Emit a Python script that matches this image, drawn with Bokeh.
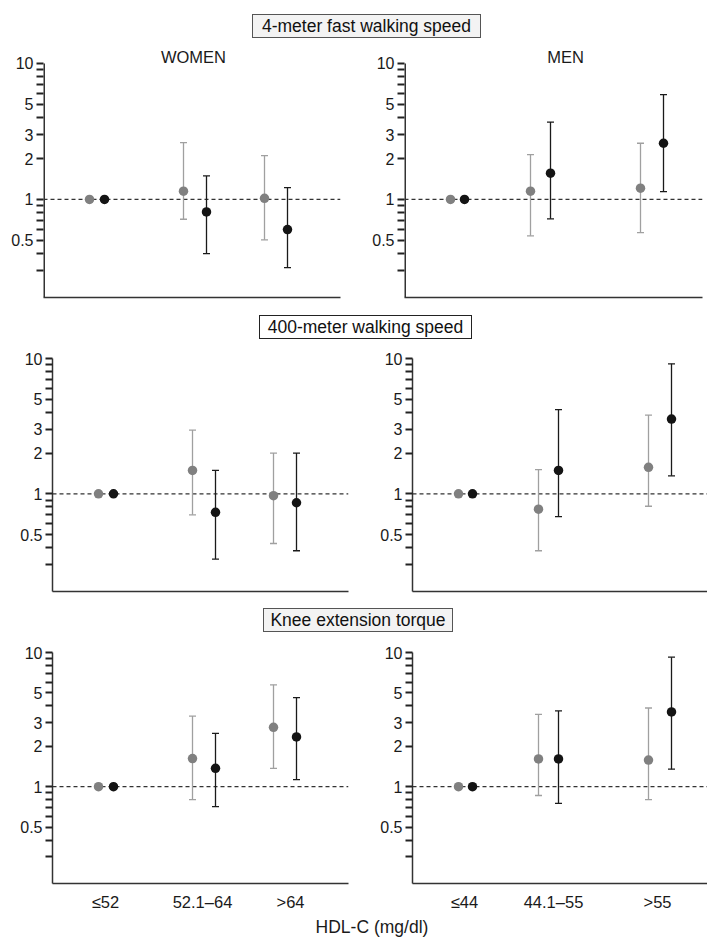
import math
from bokeh.plotting import figure
from bokeh.models import (Range1d, FixedTicker, Span, Whisker, TeeHead,
                          ColumnDataSource, Div, Label)
from bokeh.layouts import row, column
from bokeh.embed import file_html
from bokeh.resources import INLINE

# ---------------- data (odds ratios with 95% CI) -------------
women_categories = ["≤52", "52.1–64", ">64"]
men_categories = ["≤44", "44.1–55", ">55"]
outcome_titles = ["4-meter fast walking speed", "400-meter walking speed", "Knee extension torque"]
x_title = "HDL-C (mg/dl)"
y_tick_values = [0.5, 1, 2, 3, 5, 10]
y_minor_values = [0.3, 0.4, 0.6, 0.7, 0.8, 0.9, 4, 6, 7, 8, 9]

# 4-meter fast walking speed
w4_gray_or = [1.0, 1.15, 1.02]
w4_gray_lo = [None, 0.715, 0.505]
w4_gray_hi = [None, 2.62, 2.10]
w4_black_or = [1.0, 0.81, 0.60]
w4_black_lo = [None, 0.40, 0.315]
w4_black_hi = [None, 1.49, 1.22]
m4_gray_or = [1.0, 1.15, 1.21]
m4_gray_lo = [None, 0.54, 0.57]
m4_gray_hi = [None, 2.14, 2.59]
m4_black_or = [1.0, 1.56, 2.59]
m4_black_lo = [None, 0.72, 1.14]
m4_black_hi = [None, 3.71, 5.91]

# 400-meter walking speed
w400_gray_or = [1.0, 1.49, 0.97]
w400_gray_lo = [None, 0.70, 0.43]
w400_gray_hi = [None, 2.96, 2.00]
w400_black_or = [1.0, 0.73, 0.86]
w400_black_lo = [None, 0.33, 0.38]
w400_black_hi = [None, 1.49, 2.00]
m400_gray_or = [1.0, 0.77, 1.57]
m400_gray_lo = [None, 0.38, 0.81]
m400_gray_hi = [None, 1.51, 3.82]
m400_black_or = [1.0, 1.49, 3.57]
m400_black_lo = [None, 0.68, 1.36]
m400_black_hi = [None, 4.19, 9.14]

# Knee extension torque
wk_gray_or = [1.0, 1.62, 2.77]
wk_gray_lo = [None, 0.80, 1.37]
wk_gray_hi = [None, 3.36, 5.74]
wk_black_or = [1.0, 1.37, 2.35]
wk_black_lo = [None, 0.71, 1.13]
wk_black_hi = [None, 2.50, 4.61]
mk_gray_or = [1.0, 1.61, 1.58]
mk_gray_lo = [None, 0.86, 0.80]
mk_gray_hi = [None, 3.46, 3.86]
mk_black_or = [1.0, 1.61, 3.61]
mk_black_lo = [None, 0.75, 1.35]
mk_black_hi = [None, 3.67, 9.23]

# ---------------- layout constants ----------------
FONT = "Liberation Sans"
GRAY_DOT = "#808080"
GRAY_BAR = "#a0a0a0"
BLACK_DOT = "#141414"
BLACK_BAR = "#1a1a1a"
AXIS_COLOR = "#333333"
TICK_COLOR = "#222222"
Y_BOTTOM = 0.19

# horizontal placement (pixel offsets inside each plot frame)
WOMEN_GRAY_X = [46, 140, 221]
WOMEN_BLACK_X = [61, 163, 244]
WOMEN_LABEL_X = [53, 150, 238]
MEN_GRAY_X = [46, 126, 236]
MEN_BLACK_X = [60, 146, 259]
MEN_LABEL_X = [52, 141, 245]


def panel(series, gray_x, black_x, width, left, right, top, bottom, decade,
          y_top, labels=None, label_x=None, header=None, header_x=None):
    frame_w = width - left - right
    frame_h = int(round(decade * (math.log10(y_top) - math.log10(Y_BOTTOM))))
    height = top + frame_h + bottom
    p = figure(width=width, height=height, y_axis_type="log",
               x_range=Range1d(0, frame_w), y_range=Range1d(Y_BOTTOM, y_top),
               min_border_left=left, min_border_right=right,
               min_border_top=top, min_border_bottom=bottom,
               output_backend="svg", toolbar_location=None, tools="")
    p.outline_line_color = None
    p.xgrid.visible = False
    p.ygrid.visible = False
    p.background_fill_color = "white"
    p.border_fill_color = "white"

    # reference line
    p.add_layout(Span(location=1, dimension="width", line_color="#333333",
                      line_width=1.2, line_dash="4 3", level="underlay"))

    (g_or, g_lo, g_hi), (b_or, b_lo, b_hi) = series
    for vals, lo, hi, xs, dot_c, bar_c in (
            (g_or, g_lo, g_hi, gray_x, GRAY_DOT, GRAY_BAR),
            (b_or, b_lo, b_hi, black_x, BLACK_DOT, BLACK_BAR)):
        idx = [i for i in range(len(vals)) if lo[i] is not None]
        wsrc = ColumnDataSource(dict(x=[xs[i] for i in idx],
                                     lower=[lo[i] for i in idx],
                                     upper=[hi[i] for i in idx]))
        w = Whisker(source=wsrc, base="x", lower="lower", upper="upper",
                    line_color=bar_c, line_width=1.3, level="underlay",
                    upper_head=TeeHead(size=7, line_color=bar_c, line_width=1.3),
                    lower_head=TeeHead(size=7, line_color=bar_c, line_width=1.3))
        p.add_layout(w)
        src = ColumnDataSource(dict(x=list(xs), y=list(vals)))
        p.scatter("x", "y", source=src, size=9.5, fill_color=dot_c, line_color=None)

    # y axis: every tick drawn as a major tick, only some of them labelled
    all_ticks = sorted(y_tick_values + y_minor_values)
    overrides = {v: ("%g" % v) for v in y_tick_values}
    overrides.update({v: "" for v in y_minor_values})
    ya = p.yaxis[0]
    ya.ticker = FixedTicker(ticks=all_ticks, minor_ticks=[])
    ya.major_label_overrides = overrides
    ya.axis_line_color = AXIS_COLOR
    ya.axis_line_width = 1.5
    if y_top > 10:
        # axis line must stop at 10: draw it inside the frame edge instead
        ya.axis_line_color = None
        p.segment(x0=[0], y0=[Y_BOTTOM], x1=[0], y1=[10], line_color=AXIS_COLOR,
                  line_width=3, line_cap="butt")
    ya.major_tick_line_color = TICK_COLOR
    ya.major_tick_line_width = 2
    ya.major_tick_out = 7
    ya.major_tick_in = 0
    ya.minor_tick_out = 0
    ya.minor_tick_in = 0
    ya.major_label_standoff = 3
    ya.major_label_text_font = FONT
    ya.major_label_text_font_size = "16px"
    ya.major_label_text_color = "#1a1a1a"

    # x axis
    xa = p.xaxis[0]
    xa.axis_line_color = AXIS_COLOR
    xa.axis_line_width = 1.5
    xa.major_tick_out = 0
    xa.major_tick_in = 0
    xa.minor_tick_out = 0
    xa.minor_tick_in = 0
    if labels:
        xa.ticker = FixedTicker(ticks=label_x, minor_ticks=[])
        xa.major_label_overrides = {label_x[i]: labels[i] for i in range(len(labels))}
        xa.major_label_standoff = 9
        xa.major_label_text_font = FONT
        xa.major_label_text_font_size = "16.5px"
        xa.major_label_text_color = "#1a1a1a"
    else:
        xa.ticker = FixedTicker(ticks=[], minor_ticks=[])
        xa.major_label_standoff = 0

    if header:
        hy = 10 ** (1 + 6.0 / decade)
        p.add_layout(Label(x=header_x, y=hy, text=header, text_align="center",
                           text_baseline="middle", text_font=FONT,
                           text_font_size="16.5px", text_color="#1a1a1a"))
    return p


def box_div(text, height, left, top, width, fill, border):
    html = (
        f'<div style="position:relative;width:699px;height:{height}px;">'
        f'<div style="position:absolute;left:{left}px;top:{top}px;width:{width}px;height:24px;'
        f'box-sizing:border-box;border:1px solid {border};background:{fill};'
        f"font-family:'Liberation Sans',Arial,sans-serif;font-size:17.5px;line-height:22px;"
        f'text-align:center;color:#111;white-space:nowrap;">{text}</div></div>'
    )
    return Div(text=html, width=699, height=height, margin=0)


# row 1 (extended frame top to host the WOMEN / MEN headers)
D1 = 136.0
top1 = 10 ** (1 + 15.0 / D1)
p1 = panel(((w4_gray_or, w4_gray_lo, w4_gray_hi), (w4_black_or, w4_black_lo, w4_black_hi)),
           WOMEN_GRAY_X, WOMEN_BLACK_X, 360, 35, 28, 2, 10, D1, top1,
           header="WOMEN", header_x=150)
p2 = panel(((m4_gray_or, m4_gray_lo, m4_gray_hi), (m4_black_or, m4_black_lo, m4_black_hi)),
           MEN_GRAY_X, MEN_BLACK_X, 339, 36, 5, 2, 10, D1, top1,
           header="MEN", header_x=161)

D2 = 135.5
p3 = panel(((w400_gray_or, w400_gray_lo, w400_gray_hi), (w400_black_or, w400_black_lo, w400_black_hi)),
           WOMEN_GRAY_X, WOMEN_BLACK_X, 360, 44, 20, 12, 10, D2, 10)
p4 = panel(((m400_gray_or, m400_gray_lo, m400_gray_hi), (m400_black_or, m400_black_lo, m400_black_hi)),
           MEN_GRAY_X, MEN_BLACK_X, 339, 44, 0, 12, 10, D2, 10)

p5 = panel(((wk_gray_or, wk_gray_lo, wk_gray_hi), (wk_black_or, wk_black_lo, wk_black_hi)),
           WOMEN_GRAY_X, WOMEN_BLACK_X, 360, 44, 20, 12, 28, D2, 10,
           labels=women_categories, label_x=WOMEN_LABEL_X)
p6 = panel(((mk_gray_or, mk_gray_lo, mk_gray_hi), (mk_black_or, mk_black_lo, mk_black_hi)),
           MEN_GRAY_X, MEN_BLACK_X, 339, 44, 0, 12, 28, D2, 10,
           labels=men_categories, label_x=MEN_LABEL_X)

d1 = box_div(outcome_titles[0], 38, 244, 6, 229, "#f3f3f3", "#555555")
d2 = box_div(outcome_titles[1], 39, 251, 8, 213, "#ffffff", "#222222")
d3 = box_div(outcome_titles[2], 39, 255, 7, 190, "#f3f3f3", "#555555")

xlab = Div(text=(
    '<div style="position:relative;width:699px;height:28px;">'
    '<div style="position:absolute;left:264px;top:0px;width:200px;height:28px;'
    "font-family:'Liberation Sans',Arial,sans-serif;font-size:17.5px;line-height:28px;"
    f'text-align:center;color:#1a1a1a;white-space:nowrap;">{x_title}</div></div>'),
    width=699, height=28, margin=0)

layout = column(
    d1, row(p1, p2, spacing=0),
    d2, row(p3, p4, spacing=0),
    d3, row(p5, p6, spacing=0),
    xlab, spacing=0, margin=(8, 0, 0, 8))

open("out.html", "w").write(file_html(layout, INLINE))
